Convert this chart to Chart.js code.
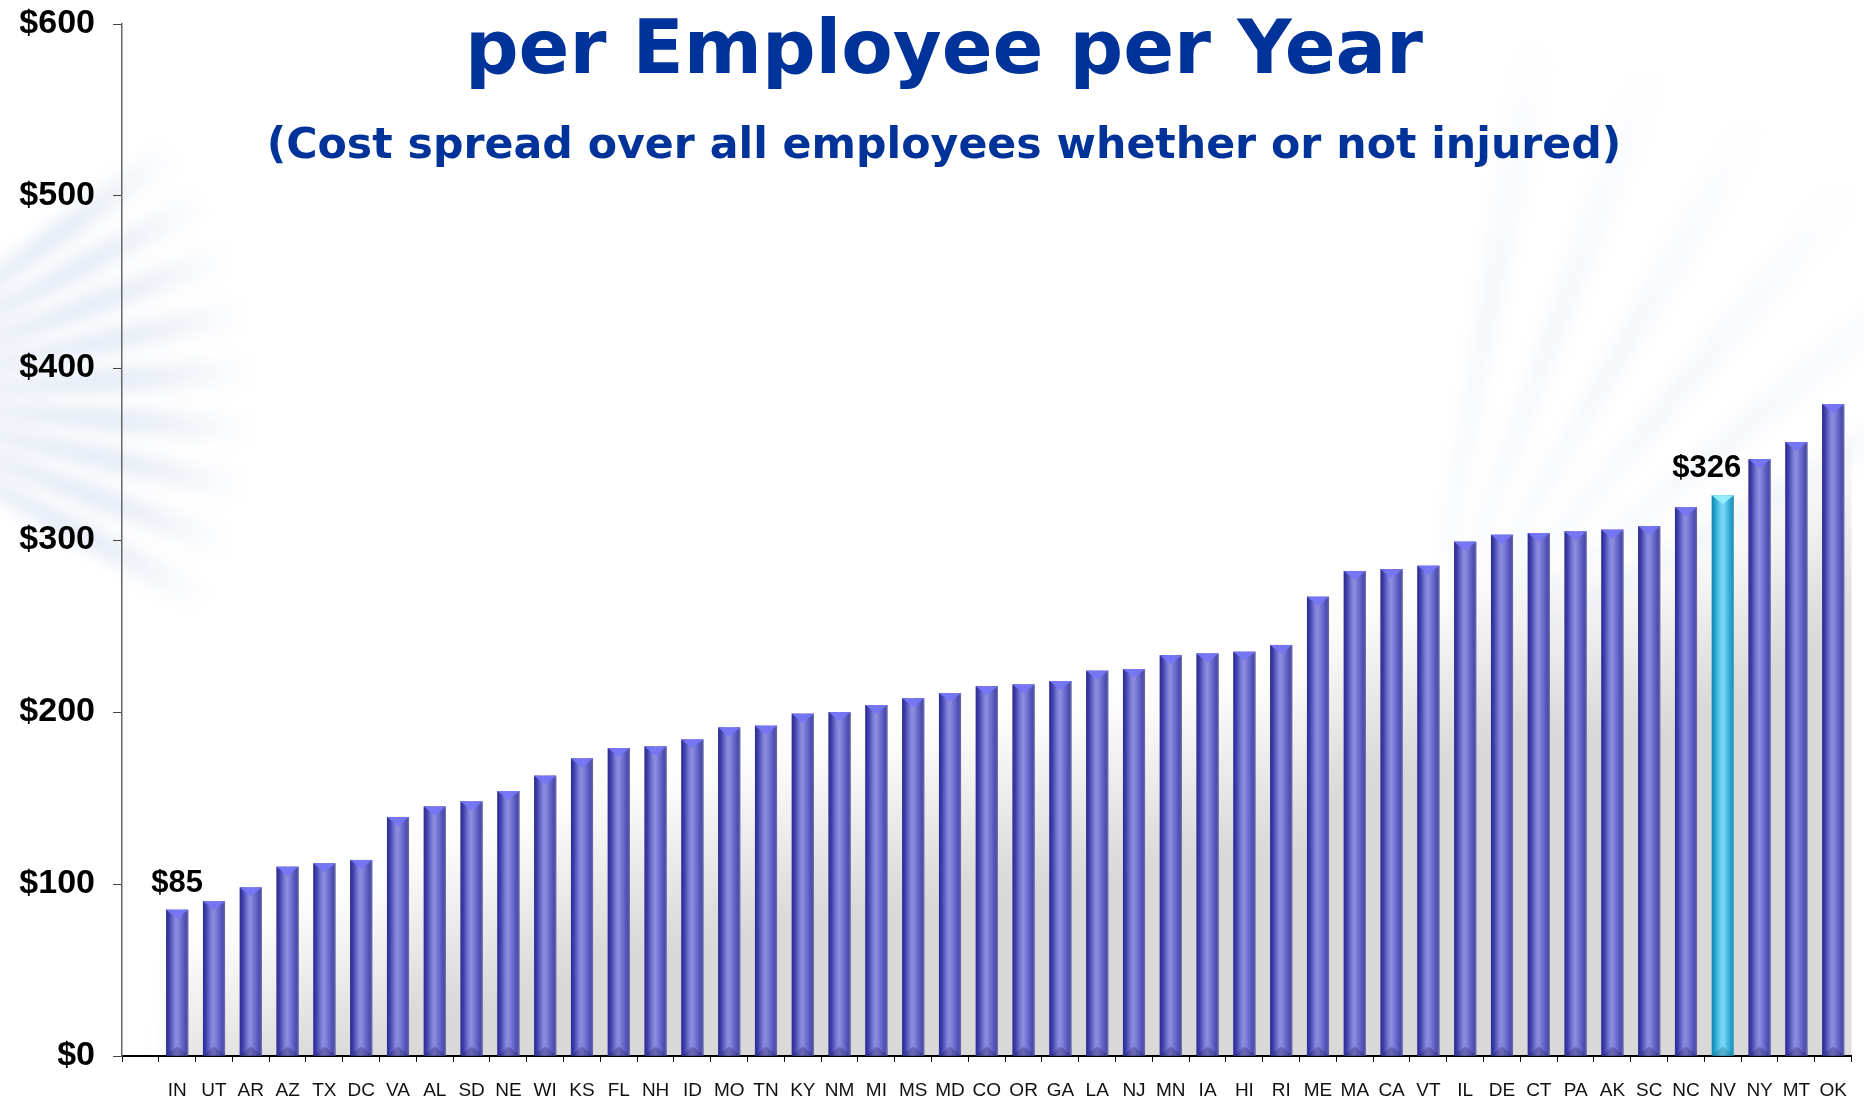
<!DOCTYPE html>
<html>
<head>
<meta charset="utf-8">
<title>Cost per Employee per Year</title>
<script src="https://cdn.jsdelivr.net/npm/chart.js@4.4.1/dist/chart.umd.min.js"></script>
<style>
    html, body { margin: 0; padding: 0; background: #fff; }
    #wrap { position: relative; width: 1864px; height: 1099px; overflow: hidden; }
    #costChart { position: absolute; left: 0; top: 0; }
    .heading {
        position: absolute; left: 0; width: 1888px; text-align: center;
        color: #003399; font-family: 'DejaVu Sans', Verdana, sans-serif;
        font-weight: bold; white-space: nowrap;
    }
    #title { top: 10px; font-size: 75px; line-height: 75px; }
    #subtitle { top: 122px; font-size: 42.7px; line-height: 43px; }
</style>
</head>
<body>
<div id="wrap">
    <canvas id="costChart" width="1864" height="1099"></canvas>
    <div class="heading" id="title">per Employee per Year</div>
    <div class="heading" id="subtitle">(Cost spread over all employees whether or not injured)</div>
</div>
<script>
// states, sorted by cost; the first slot on the axis is left empty
var states = ['', 'IN', 'UT', 'AR', 'AZ', 'TX', 'DC', 'VA', 'AL', 'SD', 'NE', 'WI', 'KS', 'FL', 'NH', 'ID',
    'MO', 'TN', 'KY', 'NM', 'MI', 'MS', 'MD', 'CO', 'OR', 'GA', 'LA', 'NJ', 'MN', 'IA', 'HI', 'RI',
    'ME', 'MA', 'CA', 'VT', 'IL', 'DE', 'CT', 'PA', 'AK', 'SC', 'NC', 'NV', 'NY', 'MT', 'OK'];
var costPerEmployee = [null, 85, 90, 98, 110, 112, 114, 139, 145, 148, 154, 163, 173, 179, 180, 184,
    191, 192, 199, 200, 204, 208, 211, 215, 216, 218, 224, 225, 233, 234, 235, 239,
    267, 282, 283, 285, 299, 303, 304, 305, 306, 308, 319, 326, 347, 357, 379];
var yTicks = [0, 100, 200, 300, 400, 500, 600];
var highlightState = 'NV';
var labelledStates = ['IN', 'NV'];

var blueStops = [[0, '#2c2c8e'], [0.12, '#3c3caa'], [0.38, '#8282da'], [0.5, '#8c8ce0'],
    [0.72, '#6868ca'], [0.9, '#4a4ab0'], [1, '#70709e']];
var cyanStops = [[0, '#0e82ac'], [0.14, '#26a2cc'], [0.42, '#70d4f4'], [0.55, '#78d8f6'],
    [0.8, '#34acd6'], [0.93, '#2096c0'], [1, '#5c9cb2']];

// faint light-blue rays in the page background
function drawFan(ctx, cx, cy, angles, r0, r1, half, color) {
    angles.forEach(function(a) {
        var rad = a * Math.PI / 180;
        var g = ctx.createRadialGradient(cx, cy, r0, cx, cy, r1);
        g.addColorStop(0, color);
        g.addColorStop(0.5, color);
        g.addColorStop(1, 'rgba(185,205,230,0)');
        ctx.fillStyle = g;
        ctx.beginPath();
        ctx.moveTo(cx + r0 * Math.cos(rad - half), cy + r0 * Math.sin(rad - half));
        ctx.lineTo(cx + r1 * Math.cos(rad - half), cy + r1 * Math.sin(rad - half));
        ctx.lineTo(cx + r1 * Math.cos(rad + half), cy + r1 * Math.sin(rad + half));
        ctx.lineTo(cx + r0 * Math.cos(rad + half), cy + r0 * Math.sin(rad + half));
        ctx.closePath();
        ctx.fill();
    });
}

var backdrop = {
    id: 'backdrop',
    beforeDraw: function(chart) {
        var ctx = chart.ctx;
        ctx.save();
        ctx.filter = 'blur(9px)';
        drawFan(ctx, -170, 400, [-36, -28, -20, -12, -4, 4, 12, 20, 28], 150, 430, 0.035,
            'rgba(180,202,232,0.42)');
        drawFan(ctx, 1420, 700, [-30, -40, -50, -60, -70, -80], 140, 680, 0.03,
            'rgba(200,215,235,0.2)');
        ctx.restore();
    }
};

// soft grey shadow behind the bars
var barShadow = {
    id: 'barShadow',
    beforeDatasetsDraw: function(chart) {
        var ctx = chart.ctx, area = chart.chartArea;
        var off = document.createElement('canvas');
        off.width = chart.width;
        off.height = chart.height;
        var o = off.getContext('2d');
        chart.getDatasetMeta(0).data.forEach(function(bar, i) {
            if (costPerEmployee[i] == null) return;
            var slot = bar.width / 0.6;
            var left = bar.x - bar.width / 2 + 8;
            var top = bar.y + 25;
            var g = o.createLinearGradient(0, top, 0, top + 170);
            g.addColorStop(0, 'rgba(0,0,0,0)');
            g.addColorStop(1, 'rgba(0,0,0,0.15)');
            o.fillStyle = g;
            o.fillRect(left, top, slot, bar.base - top + 60);
        });
        ctx.save();
        ctx.beginPath();
        ctx.rect(area.left, area.top, area.right - area.left, area.bottom - area.top);
        ctx.clip();
        ctx.filter = 'blur(14px)';
        ctx.drawImage(off, 0, 0);
        ctx.restore();
    }
};

// cylinder shading with bevelled top and bottom on each bar
var barShading = {
    id: 'barShading',
    afterDatasetsDraw: function(chart) {
        var ctx = chart.ctx;
        chart.getDatasetMeta(0).data.forEach(function(bar, i) {
            if (costPerEmployee[i] == null) return;
            var hot = states[i] === highlightState;
            var l = bar.x - bar.width / 2, r = bar.x + bar.width / 2, t = bar.y, b = bar.base;
            var g = ctx.createLinearGradient(l, 0, r, 0);
            (hot ? cyanStops : blueStops).forEach(function(s) { g.addColorStop(s[0], s[1]); });
            ctx.save();
            ctx.fillStyle = g;
            ctx.fillRect(l, t, r - l, b - t);

            ctx.fillStyle = hot ? 'rgba(150,240,255,0.95)' : 'rgba(118,118,246,0.95)';
            ctx.beginPath();
            ctx.moveTo(l, t);
            ctx.lineTo(r, t);
            ctx.lineTo(bar.x, t + 9);
            ctx.closePath();
            ctx.fill();

            ctx.fillStyle = hot ? 'rgba(10,90,120,0.3)' : 'rgba(25,25,90,0.3)';
            ctx.beginPath();
            ctx.moveTo(l, b);
            ctx.lineTo(bar.x, b - 9);
            ctx.lineTo(r, b);
            ctx.closePath();
            ctx.fill();
            ctx.restore();
        });
    }
};

// dollar amounts over selected bars
var valueLabels = {
    id: 'valueLabels',
    afterDatasetsDraw: function(chart, args, opts) {
        var ctx = chart.ctx;
        var meta = chart.getDatasetMeta(0);
        ctx.save();
        ctx.font = 'bold 31px "Liberation Sans", Arial, sans-serif';
        ctx.fillStyle = '#000';
        ctx.textAlign = 'center';
        ctx.textBaseline = 'alphabetic';
        labelledStates.forEach(function(s) {
            var i = states.indexOf(s);
            var bar = meta.data[i];
            var dx = (opts.shift && opts.shift[s]) || 0;
            ctx.fillText('$' + costPerEmployee[i], bar.x + dx, bar.y - 18);
        });
        ctx.restore();
    }
};

var ctx = document.getElementById('costChart').getContext('2d');
var costChart = new Chart(ctx, {
    type: 'bar',
    data: {
        labels: states,
        datasets: [{
            label: 'Cost per employee',
            data: costPerEmployee,
            backgroundColor: states.map(function(s) { return s === highlightState ? '#48c0e8' : '#5a5ac4'; }),
            borderWidth: 0,
            categoryPercentage: 1.0,
            barPercentage: 0.6
        }]
    },
    options: {
        responsive: false,
        animation: false,
        layout: {
            padding: { top: 24, right: 7, left: 0, bottom: 0 }
        },
        plugins: {
            legend: { display: false },
            tooltip: { enabled: false },
            valueLabels: { shift: { NV: -16 } }
        },
        scales: {
            x: {
                grid: {
                    offset: true,
                    drawOnChartArea: false,
                    tickLength: 6,
                    color: '#000'
                },
                border: { color: '#000', width: 2 },
                ticks: {
                    autoSkip: false,
                    maxRotation: 0,
                    padding: 17,
                    color: '#111',
                    font: { family: '"Liberation Sans", Arial, sans-serif', size: 19 }
                },
                afterFit: function(scale) { scale.height = 43; }
            },
            y: {
                min: 0,
                max: 600,
                afterBuildTicks: function(scale) {
                    scale.ticks = yTicks.map(function(v) { return { value: v }; });
                },
                grid: {
                    drawOnChartArea: false,
                    tickLength: 9,
                    color: '#444'
                },
                border: { color: '#666', width: 1.5 },
                ticks: {
                    padding: 18,
                    color: '#000',
                    font: { family: '"Liberation Sans", Arial, sans-serif', size: 34, weight: 'bold' },
                    callback: function(v) { return '$' + v; }
                },
                afterFit: function(scale) {
                    scale.width = 122;
                    scale.paddingTop = 0;
                    scale.paddingBottom = 0;
                }
            }
        }
    },
    plugins: [backdrop, barShadow, barShading, valueLabels]
});
</script>
</body>
</html>
